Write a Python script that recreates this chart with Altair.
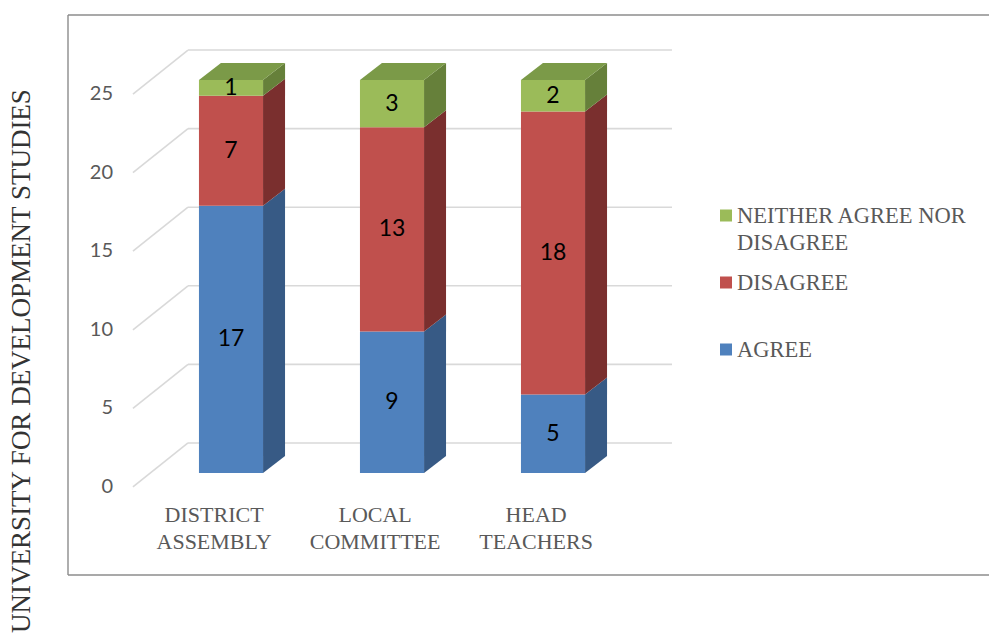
import altair as alt
import pandas as pd

# ---------------- data ----------------
categories = ["DISTRICT ASSEMBLY", "LOCAL COMMITTEE", "HEAD TEACHERS"]
category_lines = [["DISTRICT", "ASSEMBLY"], ["LOCAL", "COMMITTEE"], ["HEAD", "TEACHERS"]]
series = ["AGREE", "DISAGREE", "NEITHER AGREE NOR DISAGREE"]
agree = [17, 9, 5]
disagree = [7, 13, 18]
neither = [1, 3, 2]
y_ticks = [0, 5, 10, 15, 20, 25]
legend_order = ["NEITHER AGREE NOR DISAGREE", "DISAGREE", "AGREE"]
legend_lines = [["NEITHER AGREE NOR", "DISAGREE"], ["DISAGREE"], ["AGREE"]]
watermark = "UNIVERSITY FOR DEVELOPMENT STUDIES"

# ---------------- style ----------------
front_colors = ["#4F81BD", "#C0504D", "#9BBB59"]
side_colors = ["#375A85", "#7A2F2E", "#66803A"]
top_color = "#7B9A48"
grid_color = "#D9D9D9"
text_gray = "#595959"
SERIF = "Liberation Serif, Times New Roman, serif"

HALF = 0.199            # half bar width (category units)
DX, DY = 0.1366, 1.082  # bar depth (x units, value units)
FRONT_DY = 0.891        # bar front plane above label plane
CAT_DX = -0.105         # category label plane shift
SIDE_X0 = -0.609        # front end of side-wall gridlines
WALL_X0, WALL_X1 = -0.267, 2.739
WALL_DY = 2.80

W, H = 921, 560
xs = alt.Scale(domain=[-1.0124, 4.708], nice=False, zero=False)
ys = alt.Scale(domain=[-5.60, 30.03], nice=False, zero=False)

values = {"AGREE": agree, "DISAGREE": disagree, "NEITHER AGREE NOR DISAGREE": neither}

front_rows, side_rows, top_rows = [], [], []
for i, cat in enumerate(categories):
    lo = 0
    for s in series:
        v = values[s][i]
        hi = lo + v
        front_rows.append(dict(cat=cat, series=s, value=v, xc=i,
                               x0=i - HALF, x1=i + HALF,
                               y0=lo + FRONT_DY, y1=hi + FRONT_DY,
                               ym=(lo + hi) / 2 + FRONT_DY))
        key = f"{cat}|{s}"
        side_rows.append(dict(key=key, series=s, x=i + HALF,
                              ylo=lo + FRONT_DY, yhi=hi + FRONT_DY))
        side_rows.append(dict(key=key, series=s, x=i + HALF + DX,
                              ylo=lo + FRONT_DY + DY, yhi=hi + FRONT_DY + DY))
        lo = hi
    top = lo + FRONT_DY
    for x, a, b in [(i - HALF, top, top), (i - HALF + DX, top, top + DY),
                    (i + HALF, top, top + DY), (i + HALF + DX, top + DY, top + DY)]:
        top_rows.append(dict(key=cat, x=x, ylo=a, yhi=b))

front_df = pd.DataFrame(front_rows)
side_df = pd.DataFrame(side_rows)
top_df = pd.DataFrame(top_rows)

grid_rows = []
for v in y_ticks:
    grid_rows.append(dict(x=SIDE_X0, x2=WALL_X0, y=v, y2=v + WALL_DY))
    grid_rows.append(dict(x=WALL_X0, x2=WALL_X1, y=v + WALL_DY, y2=v + WALL_DY))
grid_df = pd.DataFrame(grid_rows)
tick_df = pd.DataFrame({"v": y_ticks})

cat_df = pd.DataFrame({"x": [i + CAT_DX for i in range(len(categories))],
                       "lines": category_lines})
leg_df = pd.DataFrame({"series": legend_order, "lines": legend_lines,
                       "row": list(range(len(legend_order)))})

# ---------------- layers ----------------
grid = alt.Chart(grid_df).mark_rule(color=grid_color, strokeWidth=1.6).encode(
    x=alt.X("x:Q", scale=xs, axis=None),
    x2="x2:Q",
    y=alt.Y("y:Q", scale=ys, axis=None),
    y2="y2:Q",
)

ticks = alt.Chart(tick_df).mark_text(font="Lato", fontSize=20, color=text_gray,
                                      align="right", baseline="middle").encode(
    x=alt.value(45),
    y=alt.Y("v:Q", scale=ys, axis=None),
    text="v:Q",
)

sides = alt.Chart(side_df).mark_area(opacity=1, interpolate="linear").encode(
    x=alt.X("x:Q", scale=xs, axis=None),
    y=alt.Y("ylo:Q", scale=ys, axis=None, stack=None),
    y2="yhi:Q",
    detail="key:N",
    color=alt.Color("series:N", scale=alt.Scale(domain=series, range=side_colors), legend=None),
)

tops = alt.Chart(top_df).mark_area(opacity=1, color=top_color, interpolate="linear").encode(
    x=alt.X("x:Q", scale=xs, axis=None),
    y=alt.Y("ylo:Q", scale=ys, axis=None, stack=None),
    y2="yhi:Q",
    detail="key:N",
)

fronts = alt.Chart(front_df).mark_rect().encode(
    x=alt.X("x0:Q", scale=xs, axis=None),
    x2="x1:Q",
    y=alt.Y("y0:Q", scale=ys, axis=None),
    y2="y1:Q",
    color=alt.Color("series:N", scale=alt.Scale(domain=series, range=front_colors), legend=None),
)

labels = alt.Chart(front_df).mark_text(font="Lato", fontSize=23, color="#000000",
                                        baseline="middle", align="center").encode(
    x=alt.X("xc:Q", scale=xs, axis=None),
    y=alt.Y("ym:Q", scale=ys, axis=None),
    text="value:Q",
)

cats = alt.Chart(cat_df).mark_text(font=SERIF, fontSize=22, color=text_gray,
                                    align="center", baseline="alphabetic", lineHeight=26.5).encode(
    x=alt.X("x:Q", scale=xs, axis=None),
    y=alt.value(507),
    text="lines",
)

wm = alt.Chart(pd.DataFrame({"t": [watermark]})).mark_text(
    font=SERIF, fontSize=27, color="#333333", angle=270,
    align="center", baseline="middle").encode(
    x=alt.value(-46), y=alt.value(346), text="t:N")

frame_df = pd.DataFrame({"side": ["top", "bottom", "left"]})
frame_top = alt.Chart(frame_df.iloc[[0]]).mark_rule(color="#8C8C8C", strokeWidth=1.4).encode(
    x=alt.value(0), x2=alt.value(W + 20), y=alt.value(0))
frame_bot = alt.Chart(frame_df.iloc[[1]]).mark_rule(color="#8C8C8C", strokeWidth=1.4).encode(
    x=alt.value(0), x2=alt.value(W + 20), y=alt.value(H))
frame_left = alt.Chart(frame_df.iloc[[2]]).mark_rule(color="#8C8C8C", strokeWidth=1.4).encode(
    x=alt.value(0), y=alt.value(0), y2=alt.value(H))

main = alt.layer(grid, ticks, sides, tops, fronts, labels, cats, wm,
                 frame_top, frame_bot, frame_left).resolve_scale(color="independent")

leg_y = alt.Scale(domain=[0, 2], range=[200.5, 334.5])
leg_sq = alt.Chart(leg_df).mark_square(size=144, opacity=1).encode(
    x=alt.value(658),
    y=alt.Y("row:Q", scale=leg_y, axis=None),
    color=alt.Color("series:N", scale=alt.Scale(domain=series, range=front_colors), legend=None),
)
leg_tx = alt.Chart(leg_df).mark_text(font=SERIF, fontSize=22.5, color=text_gray,
                                      align="left", baseline="alphabetic", dy=7.5,
                                      lineHeight=27).encode(
    x=alt.value(669),
    y=alt.Y("row:Q", scale=leg_y, axis=None),
    text="lines",
)
legend = alt.layer(leg_sq, leg_tx)

chart = alt.layer(main, legend).resolve_scale(
    y="independent", color="independent"
).properties(
    width=W, height=H,
    padding={"left": 68, "top": 15, "right": 0, "bottom": 65},
    autosize=alt.AutoSizeParams(type="none"),
).configure_view(stroke=None)

chart.save("out.html", embed_options={"renderer": "svg", "actions": False})
